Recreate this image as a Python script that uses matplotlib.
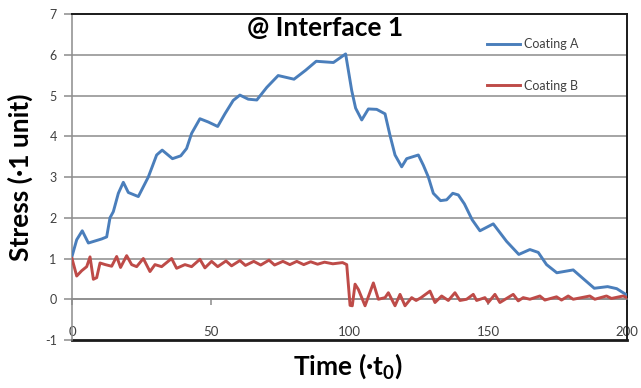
import numpy as np
import matplotlib.pyplot as plt

plt.rcParams['font.family'] = ['Lato', 'DejaVu Sans']
plt.rcParams['mathtext.fontset'] = 'custom'
plt.rcParams['mathtext.rm'] = 'Lato:bold'
plt.rcParams['mathtext.bf'] = 'Lato:bold'
plt.rcParams['axes.unicode_minus'] = False

''' values read off the picture '''
t_a = [0, 1.7, 3.7, 5.9, 10.7, 12.5, 13.7, 14.9, 16.7, 18.5, 20.3, 23.9, 25.7, 27.5,
       28.9, 30.5, 32.5, 36.2, 39.2, 41.3, 43.1, 46.1, 49.1, 52.5, 55.1, 58.1, 60.5,
       63.5, 66.6, 70.2, 74.3, 80.0, 84.2, 88.0, 94.2, 98.6, 100.8, 102.2, 104.4,
       106.8, 109.8, 112.8, 114.6, 116.4, 118.8, 120.6, 124.8, 126.6, 128.4, 130.2,
       132.8, 135.0, 137.2, 139.2, 141.4, 144.2, 147.0, 151.8, 156.6, 161.0, 165.0,
       168.0, 171.0, 174.7, 180.6, 184.3, 188.2, 193.0, 196.3, 200]
coating_a = [1.05, 1.46, 1.68, 1.38, 1.48, 1.53, 2.0, 2.15, 2.6, 2.87, 2.62, 2.52, 2.76,
             3.0, 3.25, 3.54, 3.66, 3.45, 3.52, 3.7, 4.07, 4.43, 4.35, 4.24, 4.55, 4.88,
             5.01, 4.91, 4.89, 5.2, 5.49, 5.4, 5.62, 5.84, 5.81, 6.02, 5.12, 4.69, 4.4,
             4.67, 4.66, 4.55, 4.02, 3.54, 3.25, 3.45, 3.54, 3.29, 3.0, 2.6, 2.42, 2.44,
             2.6, 2.56, 2.34, 1.95, 1.68, 1.85, 1.42, 1.1, 1.22, 1.15, 0.85, 0.65, 0.72,
             0.5, 0.27, 0.31, 0.26, 0.1]

t_b = [0, 1.7, 3.5, 5.3, 6.5, 7.7, 8.9, 10.1, 12.0, 14.3, 16.1, 17.5, 19.7, 21.5,
       23.3, 25.7, 28.1, 29.9, 32.3, 35.9, 37.7, 40.7, 43.1, 46.1, 47.9, 50.3, 52.5,
       55.5, 57.5, 60.5, 62.5, 65.5, 68.0, 71.0, 73.0, 76.0, 78.5, 81.0, 83.5, 86.0,
       88.5, 91.0, 94.0, 97.5, 99.0, 100.2, 101.0, 102.0, 103.2, 104.4, 105.6, 108.6,
       110.4, 112.8, 114.0, 116.4, 118.2, 120.0, 122.4, 124.0, 125.8, 129.0, 130.8,
       133.2, 135.6, 138.0, 139.8, 142.2, 144.6, 145.8, 148.8, 150.0, 152.4, 154.2,
       159.0, 160.8, 162.6, 165.0, 168.6, 170.4, 174.6, 176.4, 178.8, 180.6, 186.6,
       188.4, 192.6, 194.4, 198.6, 200]
coating_b = [1.0, 0.57, 0.7, 0.8, 1.04, 0.49, 0.53, 0.89, 0.85, 0.81, 1.05, 0.78, 1.07,
             0.85, 0.8, 1.0, 0.68, 0.85, 0.8, 1.0, 0.76, 0.85, 0.8, 0.98, 0.77, 0.93,
             0.8, 0.94, 0.82, 0.95, 0.83, 0.93, 0.84, 0.96, 0.84, 0.93, 0.85, 0.93, 0.85,
             0.92, 0.86, 0.91, 0.87, 0.9, 0.85, -0.15, -0.16, 0.37, 0.24, 0.04, -0.16,
             0.4, 0.0, 0.04, 0.16, -0.16, 0.12, -0.16, 0.04, -0.03, 0.04, 0.2, -0.08,
             0.08, -0.03, 0.16, -0.03, 0.0, 0.12, -0.03, 0.04, -0.08, 0.12, -0.08, 0.12,
             -0.04, 0.04, 0.0, 0.08, -0.02, 0.06, -0.02, 0.08, 0.0, 0.08, 0.0, 0.08,
             0.02, 0.08, 0.04]

x_ticks = [0, 50, 100, 150, 200]
y_ticks = [-1, 0, 1, 2, 3, 4, 5, 6, 7]

fig = plt.figure(figsize=(6.41, 3.88), dpi=100)
ax = fig.add_axes([0.1123, 0.1237, 0.8659, 0.8402])

ax.plot(t_a, coating_a, color='#4a7ebb', lw=2.1, label='Coating A', zorder=3)
ax.plot(t_b, coating_b, color='#be4b48', lw=2.1, label='Coating B', zorder=3)

ax.set_xlim(0, 200)
ax.set_ylim(-1, 7)
ax.set_yticks(y_ticks)
ax.set_xticks(x_ticks)

# horizontal grid
for yy in y_ticks[1:-1]:
    ax.axhline(yy, color='#8c8c8c', lw=1.1, zorder=1)

# frame: gray left axis and x axis at 0, dark border elsewhere
ax.spines['left'].set_color('#8c8c8c')
ax.spines['left'].set_linewidth(1.1)
ax.spines['bottom'].set_position(('data', 0))
ax.spines['bottom'].set_color('#8c8c8c')
ax.spines['bottom'].set_linewidth(1.1)
for s in ['top', 'right']:
    ax.spines[s].set_color('#1a1a1a')
    ax.spines[s].set_linewidth(1.4)
ax.plot([0, 1], [0, 0], transform=ax.transAxes, color='#1a1a1a', lw=2.0, clip_on=False)

ax.tick_params(axis='y', length=6, width=1.1, color='#8c8c8c', pad=5,
               labelsize=9, labelcolor='#404040')
ax.tick_params(axis='x', direction='out', length=4, width=1.1, color='#8c8c8c',
               pad=15, labelsize=9.5, labelcolor='#404040')

ax.text(0.456, 0.957, '@ Interface 1', transform=ax.transAxes, ha='center', va='center',
        fontsize=19, fontweight='bold')

ax.set_ylabel('Stress (·1 unit)', fontsize=19, fontweight='bold')
ax.yaxis.set_label_coords(-0.07, 0.5)
ax.set_xlabel('Time (·t$_0$)', fontsize=19, fontweight='bold')
ax.xaxis.set_label_coords(0.497, -0.035)

leg = ax.legend(loc='upper left', bbox_to_anchor=(0.748, 0.925), frameon=False,
                fontsize=9, handlelength=2.6, handletextpad=0.35, labelspacing=2.35,
                borderaxespad=0, borderpad=0)
for txt in leg.get_texts():
    txt.set_color('#404040')

fig.savefig('out.png', dpi=100)
